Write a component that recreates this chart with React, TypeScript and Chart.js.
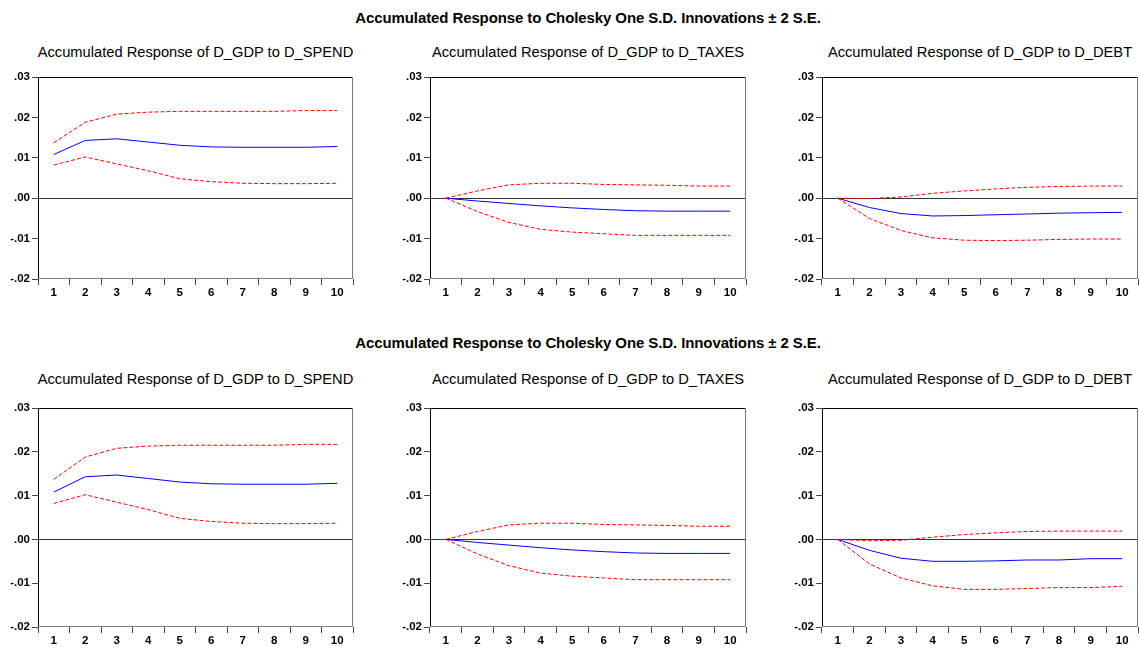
import React, { useEffect, useRef } from "react";
import { Chart, registerables } from "chart.js";

Chart.register(...registerables);

// ---------- data ----------
const periods = ["1", "2", "3", "4", "5", "6", "7", "8", "9", "10"];
const yMin = -0.02;
const yMax = 0.03;
const yStep = 0.01;

const mainTitle = "Accumulated Response to Cholesky One S.D. Innovations \u00B1 2 S.E.";
const subTitles = [
  "Accumulated Response of D_GDP to D_SPEND",
  "Accumulated Response of D_GDP to D_TAXES",
  "Accumulated Response of D_GDP to D_DEBT",
];

const spendResp = [0.0108, 0.0143, 0.0147, 0.0139, 0.0131, 0.0127, 0.0126, 0.0126, 0.0126, 0.0128];
const spendUpper = [0.0137, 0.0188, 0.0208, 0.0213, 0.0215, 0.0215, 0.0215, 0.0215, 0.0217, 0.0217];
const spendLower = [0.0082, 0.0102, 0.0085, 0.0068, 0.0048, 0.0041, 0.0037, 0.0036, 0.0036, 0.0037];

const taxesResp = [0.0, -0.0007, -0.0013, -0.0019, -0.0024, -0.0028, -0.0031, -0.0032, -0.0032, -0.0032];
const taxesUpper = [0.0, 0.0018, 0.0033, 0.0037, 0.0037, 0.0034, 0.0033, 0.0032, 0.003, 0.003];
const taxesLower = [0.0, -0.0033, -0.006, -0.0077, -0.0084, -0.0088, -0.0092, -0.0092, -0.0092, -0.0092];

const debtResp1 = [0.0, -0.0023, -0.0038, -0.0044, -0.0043, -0.0041, -0.0039, -0.0037, -0.0036, -0.0035];
const debtUpper1 = [0.0, -0.0001, 0.0003, 0.0012, 0.0018, 0.0023, 0.0027, 0.0029, 0.003, 0.003];
const debtLower1 = [0.0, -0.005, -0.008, -0.0098, -0.0104, -0.0105, -0.0104, -0.0102, -0.0101, -0.0101];

const debtResp2 = [0.0, -0.0025, -0.0043, -0.005, -0.005, -0.0049, -0.0047, -0.0047, -0.0044, -0.0044];
const debtUpper2 = [0.0, -0.0003, -0.0002, 0.0005, 0.0011, 0.0015, 0.0018, 0.0019, 0.0019, 0.0019];
const debtLower2 = [0.0, -0.0056, -0.0088, -0.0106, -0.0114, -0.0114, -0.0112, -0.011, -0.011, -0.0107];

// ---------- layout ----------
const colLeft = [38, 430, 822];
const colRight = [353, 746, 1138];
const rowTop = [77, 408];
const rowBottom = [279, 627];
const mainTitleY = [18, 343];
const subTitleY = [52, 379];

const YW = 38;
const XH = 24;
const PT = 10;
const PR = 1;

const FONT = "'Liberation Sans', Arial, sans-serif";

const framePlugin = {
  id: "frame",
  beforeDatasetsDraw(chart: any) {
    const { ctx, chartArea } = chart;
    const y0 = Math.round(chart.scales.y.getPixelForValue(0)) + 0.5;
    ctx.save();
    ctx.strokeStyle = "#333333";
    ctx.lineWidth = 1;
    ctx.beginPath();
    ctx.moveTo(chartArea.left, y0);
    ctx.lineTo(chartArea.right, y0);
    ctx.stroke();
    ctx.restore();
  },
  afterDraw(chart: any) {
    const { ctx, chartArea } = chart;
    const l = Math.round(chartArea.left) + 0.5;
    const t = Math.round(chartArea.top) + 0.5;
    const r = Math.round(chartArea.right) - 0.5;
    const b = Math.round(chartArea.bottom) - 0.5;
    ctx.save();
    ctx.lineWidth = 1;
    ctx.strokeStyle = "#000000";
    ctx.beginPath();
    ctx.moveTo(l, b);
    ctx.lineTo(l, t);
    ctx.lineTo(r, t);
    ctx.stroke();
    ctx.strokeStyle = "#7a7a7a";
    ctx.beginPath();
    ctx.moveTo(r, t);
    ctx.lineTo(r, b);
    ctx.lineTo(l, b);
    ctx.stroke();
    ctx.restore();
  },
};

function fmt(v: number): string {
  if (Math.abs(v) < 1e-9) return ".00";
  return v.toFixed(2).replace("0.", ".");
}

type PanelProps = {
  left: number;
  right: number;
  top: number;
  bottom: number;
  resp: number[];
  upper: number[];
  lower: number[];
};

function Panel({ left, right, top, bottom, resp, upper, lower }: PanelProps) {
  const ref = useRef<HTMLCanvasElement | null>(null);
  const w = right - left + YW + PR;
  const h = bottom - top + XH + PT;

  useEffect(() => {
    if (!ref.current) return;
    const chart = new Chart(ref.current, {
      type: "line",
      data: {
        labels: periods,
        datasets: [
          {
            data: upper,
            borderColor: "#ff0000",
            borderWidth: 1,
            borderDash: [4, 2],
            pointRadius: 0,
            tension: 0,
            fill: false,
          },
          {
            data: lower,
            borderColor: "#ff0000",
            borderWidth: 1,
            borderDash: [4, 2],
            pointRadius: 0,
            tension: 0,
            fill: false,
          },
          {
            data: resp,
            borderColor: "#0000ff",
            borderWidth: 1,
            pointRadius: 0,
            tension: 0,
            fill: false,
          },
        ],
      },
      options: {
        animation: false,
        responsive: false,
        devicePixelRatio: 1,
        layout: { padding: { top: PT, right: PR, left: 0, bottom: 0 } },
        plugins: {
          legend: { display: false },
          tooltip: { enabled: false },
          title: { display: false },
        },
        scales: {
          x: {
            type: "category",
            offset: true,
            grid: {
              offset: true,
              drawOnChartArea: false,
              drawTicks: true,
              tickLength: 6,
              color: "#444444",
            },
            border: { display: false },
            ticks: {
              color: "#000000",
              padding: 1,
              maxRotation: 0,
              autoSkip: false,
              font: { family: FONT, size: 11.5, weight: "bold" },
            },
            afterFit: (scale: any) => {
              scale.height = XH;
            },
          },
          y: {
            type: "linear",
            min: yMin,
            max: yMax,
            grid: {
              drawOnChartArea: false,
              drawTicks: true,
              tickLength: 6,
              color: "#444444",
            },
            border: { display: false },
            ticks: {
              stepSize: yStep,
              color: "#000000",
              padding: 2,
              font: { family: FONT, size: 11.5, weight: "bold" },
              callback: (v: any) => fmt(Number(v)),
            },
            afterFit: (scale: any) => {
              scale.width = YW;
            },
          },
        },
      } as any,
      plugins: [framePlugin],
    });
    return () => chart.destroy();
  }, []);

  return (
    <canvas
      ref={ref}
      width={w}
      height={h}
      style={{
        position: "absolute",
        left: left - YW,
        top: top - PT,
        width: w,
        height: h,
      }}
    />
  );
}

const rows = [
  [
    { resp: spendResp, upper: spendUpper, lower: spendLower },
    { resp: taxesResp, upper: taxesUpper, lower: taxesLower },
    { resp: debtResp1, upper: debtUpper1, lower: debtLower1 },
  ],
  [
    { resp: spendResp, upper: spendUpper, lower: spendLower },
    { resp: taxesResp, upper: taxesUpper, lower: taxesLower },
    { resp: debtResp2, upper: debtUpper2, lower: debtLower2 },
  ],
];

export default function App() {
  return (
    <div
      style={{
        position: "absolute",
        left: 0,
        top: 0,
        width: 1139,
        height: 650,
        background: "#ffffff",
        overflow: "hidden",
        fontFamily: FONT,
      }}
    >
      {rows.map((row, ri) => (
        <React.Fragment key={ri}>
          <div
            style={{
              position: "absolute",
              left: 0,
              width: 1176,
              top: mainTitleY[ri] - 9,
              height: 18,
              lineHeight: "18px",
              textAlign: "center",
              fontSize: 15,
              fontWeight: "bold",
              letterSpacing: "-0.1px",
              color: "#000",
              whiteSpace: "nowrap",
            }}
          >
            {mainTitle}
          </div>
          {row.map((p, ci) => (
            <React.Fragment key={ci}>
              <div
                style={{
                  position: "absolute",
                  left: colLeft[ci] - 40,
                  width: colRight[ci] - colLeft[ci] + 80,
                  top: subTitleY[ri] - 9,
                  height: 18,
                  lineHeight: "18px",
                  textAlign: "center",
                  fontSize: 14.7,
                  color: "#000",
                  whiteSpace: "nowrap",
                }}
              >
                {subTitles[ci]}
              </div>
              <Panel
                left={colLeft[ci]}
                right={colRight[ci]}
                top={rowTop[ri]}
                bottom={rowBottom[ri]}
                resp={p.resp}
                upper={p.upper}
                lower={p.lower}
              />
            </React.Fragment>
          ))}
        </React.Fragment>
      ))}
    </div>
  );
}
